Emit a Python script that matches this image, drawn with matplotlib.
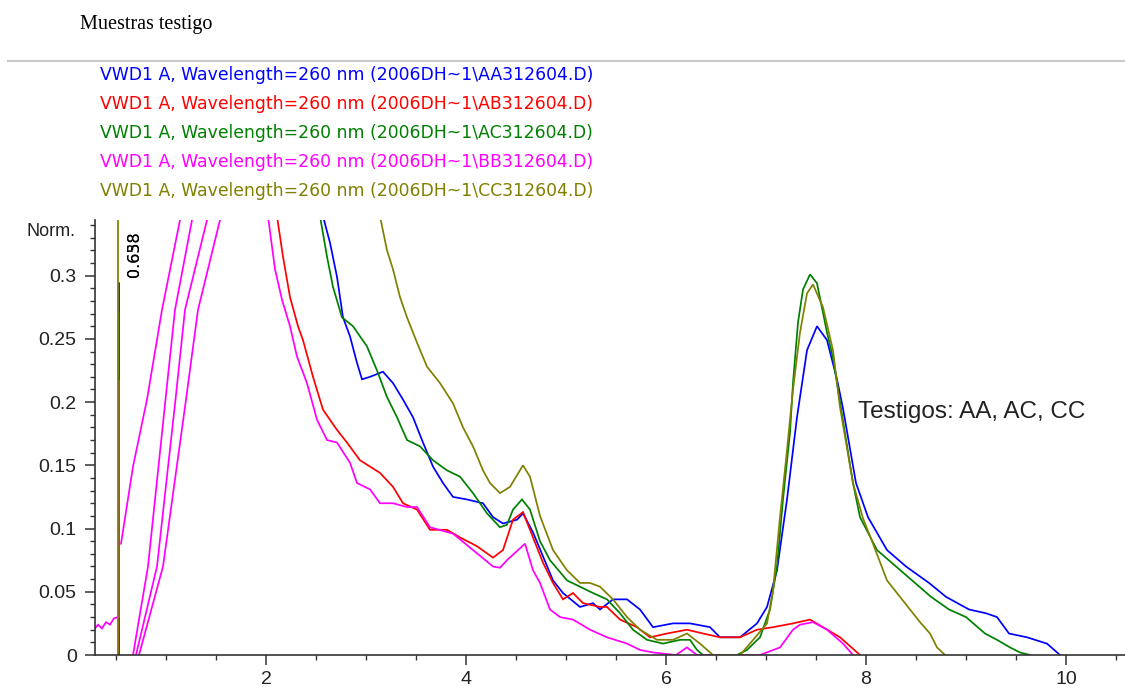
import numpy as np
import matplotlib
matplotlib.use("Agg")
import matplotlib.pyplot as plt
from matplotlib.ticker import MultipleLocator, FixedLocator, FixedFormatter
from matplotlib.lines import Line2D

nan = np.nan

# ---------------- data ----------------
title = "Muestras testigo"
legend_labels = [
    "VWD1 A, Wavelength=260 nm (2006DH~1\\AA312604.D)",
    "VWD1 A, Wavelength=260 nm (2006DH~1\\AB312604.D)",
    "VWD1 A, Wavelength=260 nm (2006DH~1\\AC312604.D)",
    "VWD1 A, Wavelength=260 nm (2006DH~1\\BB312604.D)",
    "VWD1 A, Wavelength=260 nm (2006DH~1\\CC312604.D)",
]
colors = ["#0000ff", "#ff0000", "#008000", "#ff00ff", "#808000"]

xticks = [2, 4, 6, 8, 10]
xtick_labels = ["2", "4", "6", "8", "10"]
yticks = [0, 0.05, 0.1, 0.15, 0.2, 0.25, 0.3]
ytick_labels = ["0", "0.05", "0.1", "0.15", "0.2", "0.25", "0.3"]
ylabel = "Norm."
annotation = "Testigos: AA, AC, CC"
rt_labels = ["0.638", "0.658"]

# AA (blue)
blue_x = [0.53, 0.53, nan,
          2.57, 2.64, 2.71, 2.77, 2.84, 2.91, 2.96, 3.04, 3.17, 3.27, 3.37, 3.47,
          3.57, 3.67, 3.77, 3.87, 4.01, 4.17, 4.27, 4.37, 4.51, 4.57, 4.67, 4.77,
          4.87, 4.97, 5.14, 5.27, 5.34, 5.47, 5.61, 5.74, 5.87, 6.07, 6.24, 6.44,
          6.54, 6.74, 6.91, 7.01, 7.11, 7.21, 7.31, 7.41, 7.51, 7.61, 7.71, 7.77,
          7.90, 8.02, 8.21, 8.40, 8.63, 8.80, 9.03, 9.20, 9.31, 9.43, 9.61, 9.81, 9.94]
blue_y = [0.0, 0.294, nan,
          0.347, 0.326, 0.299, 0.267, 0.252, 0.231, 0.218, 0.220, 0.224, 0.215, 0.202, 0.188,
          0.168, 0.149, 0.136, 0.125, 0.123, 0.120, 0.109, 0.104, 0.107, 0.112, 0.097, 0.078,
          0.059, 0.049, 0.038, 0.041, 0.036, 0.044, 0.044, 0.036, 0.022, 0.025, 0.025, 0.022,
          0.014, 0.014, 0.025, 0.038, 0.067, 0.123, 0.188, 0.241, 0.260, 0.249, 0.218, 0.195,
          0.136, 0.109, 0.083, 0.070, 0.057, 0.046, 0.036, 0.033, 0.030, 0.017, 0.014, 0.009, 0.0]

# AB (red)
red_x = [0.53, 0.53, nan,
         2.11, 2.17, 2.24, 2.32, 2.37, 2.47, 2.57, 2.71, 2.81, 2.94, 3.04, 3.14,
         3.27, 3.37, 3.51, 3.64, 3.81, 3.94, 4.11, 4.27, 4.37, 4.47, 4.57, 4.67,
         4.77, 4.87, 4.97, 5.07, 5.17, 5.34, 5.41, 5.54, 5.71, 5.84, 6.01, 6.21,
         6.37, 6.54, 6.74, 6.91, 7.07, 7.27, 7.44, 7.57, 7.74, 7.94]
red_y = [0.0, 0.040, nan,
         0.347, 0.315, 0.283, 0.260, 0.249, 0.220, 0.194, 0.178, 0.168, 0.154, 0.149, 0.144,
         0.133, 0.120, 0.115, 0.099, 0.099, 0.093, 0.086, 0.077, 0.083, 0.107, 0.113, 0.093,
         0.073, 0.057, 0.044, 0.049, 0.041, 0.038, 0.038, 0.028, 0.022, 0.014, 0.017, 0.020,
         0.017, 0.014, 0.014, 0.020, 0.022, 0.025, 0.028, 0.022, 0.014, 0.0]

# AC (green)
green_x = [0.53, 0.53, nan,
           2.54, 2.61, 2.67, 2.76, 2.87, 3.01, 3.11, 3.21, 3.31, 3.41, 3.54, 3.67,
           3.81, 3.94, 4.07, 4.21, 4.34, 4.41, 4.47, 4.56, 4.64, 4.74, 4.84, 5.01,
           5.14, 5.27, 5.41, 5.54, 5.67, 5.81, 5.97, 6.14, 6.24, 6.31, 6.37, 6.71,
           6.81, 6.94, 7.04, 7.11, 7.17, 7.24, 7.27, 7.32, 7.37, 7.44, 7.51, 7.61,
           7.67, 7.74, 7.87, 7.94, 8.11, 8.30, 8.49, 8.65, 8.83, 9.00, 9.19, 9.31,
           9.44, 9.54, 9.64]
green_y = [0.040, 0.270, nan,
           0.347, 0.315, 0.291, 0.267, 0.260, 0.244, 0.225, 0.204, 0.188, 0.170, 0.165, 0.154,
           0.146, 0.141, 0.128, 0.112, 0.101, 0.103, 0.115, 0.123, 0.115, 0.090, 0.075, 0.059,
           0.054, 0.049, 0.044, 0.033, 0.020, 0.012, 0.009, 0.012, 0.012, 0.004, 0.0, 0.0,
           0.004, 0.014, 0.036, 0.070, 0.123, 0.176, 0.215, 0.263, 0.289, 0.301, 0.294, 0.255,
           0.235, 0.200, 0.136, 0.109, 0.083, 0.070, 0.057, 0.046, 0.036, 0.030, 0.017, 0.012,
           0.006, 0.002, 0.0]

# BB (magenta)
magenta_x = [0.29, 0.32, 0.36, 0.40, 0.44, 0.48, 0.52, 0.53, 0.53, nan,
             0.55, 0.67, 0.81, 0.96, 1.14, nan,
             0.67, 0.82, 0.995, 1.09, 1.26, nan,
             0.70, 0.91, 1.095, 1.19, 1.41, nan,
             0.73, 0.97, 1.20, 1.32, 1.54, nan,
             2.02, 2.09, 2.16, 2.24, 2.31, 2.41, 2.51, 2.61, 2.71, 2.84, 2.91, 3.04,
             3.14, 3.27, 3.41, 3.51, 3.64, 3.87, 4.07, 4.27, 4.34, 4.41, 4.59, 4.67,
             4.74, 4.84, 4.94, 5.07, 5.24, 5.41, 5.61, 5.74, 5.87, 6.10, 6.21, 6.31,
             6.94, 7.14, 7.27, 7.34, 7.47, 7.61, 7.77, 7.87]
magenta_y = [0.021, 0.024, 0.021, 0.026, 0.024, 0.029, 0.030, 0.030, 0.217, nan,
             0.088, 0.149, 0.202, 0.273, 0.344, nan,
             0.0, 0.070, 0.202, 0.273, 0.344, nan,
             0.0, 0.070, 0.202, 0.273, 0.344, nan,
             0.0, 0.070, 0.202, 0.273, 0.344, nan,
             0.347, 0.305, 0.281, 0.260, 0.236, 0.215, 0.186, 0.170, 0.168, 0.152, 0.136, 0.131,
             0.120, 0.120, 0.117, 0.117, 0.101, 0.096, 0.083, 0.070, 0.069, 0.075, 0.088, 0.067,
             0.057, 0.036, 0.030, 0.028, 0.020, 0.014, 0.009, 0.004, 0.002, 0.0, 0.006, 0.0,
             0.0, 0.006, 0.020, 0.024, 0.026, 0.020, 0.009, 0.0]

# CC (olive)
olive_x = [0.52, 0.52, nan,
           3.14, 3.21, 3.27, 3.34, 3.41, 3.51, 3.61, 3.74, 3.87, 3.97, 4.07, 4.17,
           4.24, 4.34, 4.44, 4.57, 4.64, 4.74, 4.87, 5.01, 5.14, 5.24, 5.34, 5.47,
           5.61, 5.74, 5.91, 6.07, 6.21, 6.34, 6.47, 6.74, 6.84, 7.01, 7.07, 7.14,
           7.21, 7.27, 7.34, 7.41, 7.47, 7.57, 7.67, 7.74, 7.87, 7.97, 8.07, 8.21,
           8.34, 8.44, 8.54, 8.64, 8.71, 8.79]
olive_y = [0.0, 0.5, nan,
           0.347, 0.320, 0.305, 0.283, 0.267, 0.247, 0.228, 0.215, 0.199, 0.180, 0.165, 0.146,
           0.136, 0.128, 0.133, 0.150, 0.141, 0.110, 0.083, 0.067, 0.057, 0.057, 0.054, 0.044,
           0.030, 0.020, 0.012, 0.012, 0.017, 0.009, 0.0, 0.0, 0.009, 0.025, 0.051, 0.109,
           0.162, 0.210, 0.255, 0.286, 0.293, 0.275, 0.241, 0.196, 0.136, 0.108, 0.088, 0.059,
           0.046, 0.036, 0.026, 0.017, 0.006, 0.0]

series_x = [blue_x, red_x, green_x, magenta_x, olive_x]
series_y = [blue_y, red_y, green_y, magenta_y, olive_y]

# ---------------- figure ----------------
W, H = 1125, 690
fig = plt.figure(figsize=(W / 100, H / 100), dpi=100)
fig.patch.set_facecolor("white")

def fx(px):
    return px / W

def fy(py):
    return 1 - py / H

ax = fig.add_axes([fx(95), fy(655), fx(1125) - fx(95), fy(220) - fy(655)])
ax.set_xlim(0.29, 10.59)
ax.set_ylim(0, 0.344)

for xs, ys, c in zip(series_x, series_y, colors):
    ax.plot(xs, ys, color=c, lw=1.25, solid_joinstyle="miter")

for s in ["top", "right"]:
    ax.spines[s].set_visible(False)
for s in ["left", "bottom"]:
    ax.spines[s].set_color("#333333")
    ax.spines[s].set_linewidth(1.2)

ax.xaxis.set_major_locator(FixedLocator(xticks))
ax.xaxis.set_major_formatter(FixedFormatter(xtick_labels))
ax.xaxis.set_minor_locator(MultipleLocator(0.5))
ax.yaxis.set_major_locator(FixedLocator(yticks))
ax.yaxis.set_major_formatter(FixedFormatter(ytick_labels))
ax.yaxis.set_minor_locator(MultipleLocator(0.01))

ax.tick_params(axis="both", which="major", length=7.2, width=1.1, color="#333333",
               labelcolor="#222222", labelsize=14)
ax.tick_params(axis="both", which="minor", length=3.8, width=1.0, color="#333333")
ax.tick_params(axis="y", which="major", pad=6)
ax.tick_params(axis="x", which="major", pad=4)
for lab in ax.get_xticklabels() + ax.get_yticklabels():
    lab.set_fontfamily("Liberation Sans")

ax.annotate(ylabel, xy=(0, 0.335), xycoords=ax.get_yaxis_transform(),
            xytext=(-14, 0), textcoords="offset points", ha="right", va="center",
            fontsize=13, family="Liberation Sans", color="#222222", annotation_clip=False)

for lab in rt_labels:
    ax.text(0.61, 0.299, lab, rotation=90, ha="left", va="bottom", fontsize=11.5,
            family="DejaVu Sans", color="black", clip_on=False)

ax.text(7.92, 0.192, annotation, ha="left", va="center", fontsize=17.5,
        family="Liberation Sans", color="#222222")

# header
fig.text(fx(80), fy(25), title, ha="left", va="center", fontsize=14.5,
         family="Liberation Serif", color="black")
fig.add_artist(Line2D([fx(8), fx(1125)], [fy(61), fy(61)], color="#c8c8c8", lw=1.5))

leg_y = [75, 104, 133, 162, 191]
for lab, c, py in zip(legend_labels, colors, leg_y):
    fig.text(fx(100), fy(py), lab, ha="left", va="center", fontsize=12.4,
             family="DejaVu Sans", color=c)

fig.savefig("out.png", dpi=100, facecolor="white")
